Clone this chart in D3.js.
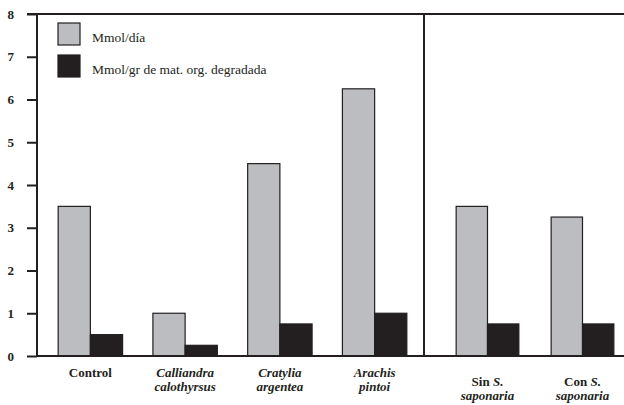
<!DOCTYPE html>
<html>
<head>
<meta charset="UTF-8">
<title>Mmol</title>
<script src="https://d3js.org/d3.v7.min.js"></script>
<style>
  body { margin: 0; background: #fff; }
  svg { display: block; font-family: "Liberation Serif", "Times New Roman", serif; }
  .tick text { font-weight: bold; font-size: 13px; fill: #231f20; }
  .cat { font-weight: bold; font-size: 13px; fill: #231f20; }
  .legend-text { font-size: 13.5px; fill: #231f20; }
</style>
</head>
<body>
<script>
// data
var leftCats = ["Control", "Calliandra calothyrsus", "Cratylia argentea", "Arachis pintoi"];
var rightCats = ["Sin S. saponaria", "Con S. saponaria"];
var series = ["Mmol/día", "Mmol/gr de mat. org. degradada"];
var perDay = [3.5, 1.0, 4.5, 6.25, 3.5, 3.25];
var perGram = [0.5, 0.25, 0.75, 1.0, 0.75, 0.75];
var yTicks = [0, 1, 2, 3, 4, 5, 6, 7, 8];

// labels, line by line (italic flag per piece)
var catLabels = [
  [[["Control", false]]],
  [[["Calliandra", true]], [["calothyrsus", true]]],
  [[["Cratylia", true]], [["argentea", true]]],
  [[["Arachis", true]], [["pintoi", true]]],
  [[["Sin ", false], ["S.", true]], [["saponaria", true]]],
  [[["Con ", false], ["S.", true]], [["saponaria", true]]]
];

var width = 624, height = 405;
var ink = "#231f20", grey = "#bcbdc0";
var x0 = 37, yTop = 14, yBottom = 356, divider = 424;

var svg = d3.select("body").append("svg")
    .attr("width", width)
    .attr("height", height);

var y = d3.scaleLinear().domain([0, 8]).range([yBottom, yTop]);

var xLeft = d3.scaleBand().domain(leftCats).range([43, 422])
    .paddingInner(0.32).paddingOuter(0.16);
var xRight = d3.scaleBand().domain(rightCats).range([440, 630])
    .paddingInner(0.34).paddingOuter(0.17);

var cats = leftCats.concat(rightCats);
var rows = cats.map(function(c, i) {
  var sc = i < leftCats.length ? xLeft : xRight;
  return { cat: c, x: sc(c), w: sc.bandwidth(), vals: [perDay[i], perGram[i]], label: catLabels[i], right: i >= leftCats.length };
});

// bars
var groups = svg.selectAll("g.grp").data(rows).enter().append("g")
    .attr("class", "grp")
    .attr("transform", function(d) { return "translate(" + d.x + ",0)"; });

groups.selectAll("rect").data(function(d) {
    var sub = d3.scaleBand().domain(series).range([0, d.w]);
    return d.vals.map(function(v, k) { return { v: v, k: k, x: sub(series[k]), w: sub.bandwidth() }; });
  }).enter().append("rect")
    .attr("x", function(d) { return d.x; })
    .attr("y", function(d) { return y(d.v); })
    .attr("width", function(d) { return d.w; })
    .attr("height", function(d) { return y(0) - y(d.v); })
    .attr("fill", function(d) { return d.k === 0 ? grey : ink; })
    .attr("stroke", ink)
    .attr("stroke-width", 1.2);

// category labels
groups.each(function(d) {
  var g = d3.select(this);
  var cx = d.w / 2;
  var base = d.right ? 386 : 377;
  d.label.forEach(function(line, li) {
    var t = g.append("text").attr("class", "cat")
        .attr("x", cx).attr("y", base + li * 14)
        .attr("text-anchor", "middle");
    line.forEach(function(p) {
      t.append("tspan").attr("font-style", p[1] ? "italic" : "normal").text(p[0]);
    });
  });
});

// frame
svg.append("line").attr("x1", x0 - 10).attr("x2", width).attr("y1", yTop).attr("y2", yTop)
    .attr("stroke", ink).attr("stroke-width", 2);
svg.append("line").attr("x1", x0).attr("x2", width).attr("y1", yBottom).attr("y2", yBottom)
    .attr("stroke", ink).attr("stroke-width", 2);
svg.append("line").attr("x1", divider).attr("x2", divider).attr("y1", yTop).attr("y2", yBottom)
    .attr("stroke", ink).attr("stroke-width", 2);

// y axis
var yAxis = svg.append("g")
    .attr("transform", "translate(" + x0 + ",0)")
    .call(d3.axisLeft(y).tickValues(yTicks).tickSize(10).tickPadding(13).tickFormat(d3.format("d")));
yAxis.select(".domain").attr("stroke", ink).attr("stroke-width", 2)
    .attr("d", "M0," + yTop + "V" + yBottom);
yAxis.selectAll(".tick line").attr("stroke", ink).attr("stroke-width", 2);
yAxis.attr("font-family", null).attr("font-size", null);

// legend
var legend = svg.append("g").attr("transform", "translate(58,23)");
series.forEach(function(s, k) {
  legend.append("rect")
    .attr("x", 0).attr("y", k * 32)
    .attr("width", 22).attr("height", 22)
    .attr("fill", k === 0 ? grey : ink)
    .attr("stroke", ink).attr("stroke-width", 1.2);
  legend.append("text").attr("class", "legend-text")
    .attr("x", 34).attr("y", k * 32 + 19)
    .text(s);
});
</script>
</body>
</html>
